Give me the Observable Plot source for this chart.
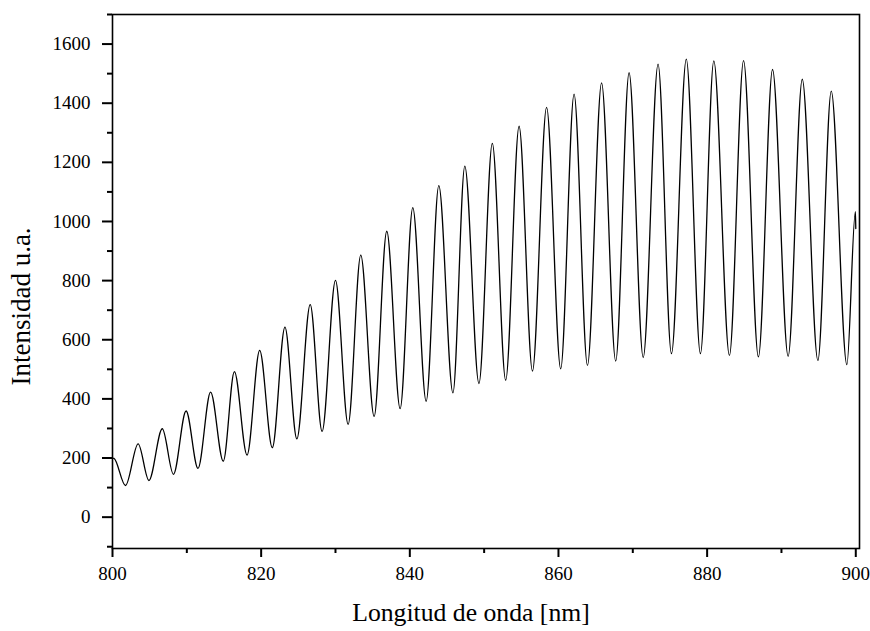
<!DOCTYPE html>
<html>
<head>
<meta charset="utf-8">
<script src="https://cdn.jsdelivr.net/npm/d3@7"></script>
<script src="https://cdn.jsdelivr.net/npm/@observablehq/plot@0.6"></script>
<style>
  html, body { margin: 0; padding: 0; background: white; }
  #chart svg { display: block; }
  #chart svg text { font-family: "Liberation Serif", serif; }
</style>
</head>
<body>
<div id="chart"></div>
<script>
// Wavelength (nm) of the extrema
const wavelength = [
  800.0, 800.2, 801.75, 803.45, 804.9, 806.7, 808.2, 809.9, 811.5, 813.2,
  814.9, 816.4, 818.1, 819.8, 821.5, 823.2, 824.8, 826.6, 828.2, 830.0,
  831.7, 833.4, 835.2, 836.9, 838.7, 840.4, 842.2, 843.9, 845.8, 847.4,
  849.3, 851.1, 852.9, 854.7, 856.5, 858.4, 860.3, 862.1, 863.9, 865.8,
  867.7, 869.5, 871.4, 873.4, 875.2, 877.2, 879.1, 880.9, 883.0, 884.9,
  886.9, 888.8, 890.9, 892.8, 894.9, 896.7, 898.8, 899.95, 900.0
];
// Intensity (a.u.) at those points
const intensity = [
  200, 199, 107, 248, 124, 299, 145, 359, 165, 423,
  189, 492, 210, 564, 235, 643, 265, 719, 290, 801,
  314, 886, 341, 967, 367, 1047, 392, 1121, 420, 1187,
  452, 1264, 463, 1322, 494, 1386, 502, 1431, 513, 1469,
  528, 1503, 540, 1532, 553, 1549, 553, 1543, 547, 1544,
  542, 1514, 544, 1481, 530, 1441, 516, 1033, 976
];

const xMajorTicks = [800, 820, 840, 860, 880, 900];
const xMinorTicks = [810, 830, 850, 870, 890];
const yMajorTicks = [0, 200, 400, 600, 800, 1000, 1200, 1400, 1600];
const yMinorTicks = [-100, 100, 300, 500, 700, 900, 1100, 1300, 1500, 1700];

const xLabel = "Longitud de onda [nm]";
const yLabel = "Intensidad u.a.";

const data = wavelength.map((x, i) => ({x, y: intensity[i]}));
const serif = "'Liberation Serif', serif";

const chart = Plot.plot({
  width: 870,
  height: 631,
  marginLeft: 112,
  marginRight: 11,
  marginTop: 14,
  marginBottom: 83,
  x: {domain: [800, 900.5]},
  y: {domain: [-106, 1700]},
  style: {fontFamily: serif, fontSize: "19px", color: "black", background: "white"},
  marks: [
    Plot.frame({strokeWidth: 1.6}),
    Plot.axisY(yMajorTicks, {tickSize: 10, tickPadding: 12, strokeWidth: 2, tickFormat: d => String(d), label: null, fontSize: 19, fontFamily: serif, fontVariant: "normal"}),
    Plot.axisY(yMinorTicks, {tickSize: 5, strokeWidth: 2, tickFormat: () => "", label: null}),
    Plot.axisX(xMajorTicks, {tickSize: 9, tickPadding: 9, strokeWidth: 2, tickFormat: d => String(d), label: null, fontSize: 19, fontFamily: serif, fontVariant: "normal"}),
    Plot.axisX(xMinorTicks, {tickSize: 5, strokeWidth: 2, tickFormat: () => "", label: null}),
    Plot.line(data, {x: "x", y: "y", curve: "monotone-x", stroke: "black", strokeWidth: 1.3}),
    Plot.text([xLabel], {frameAnchor: "bottom", dx: -15, dy: 64, fontSize: 25.7, fontFamily: serif, textAnchor: "middle", lineAnchor: "middle", text: d => d}),
    Plot.text([yLabel], {frameAnchor: "left", rotate: -90, dx: -91, dy: 25, fontSize: 27, fontFamily: serif, textAnchor: "middle", lineAnchor: "middle", text: d => d})
  ]
});

document.getElementById("chart").appendChild(chart);
</script>
</body>
</html>
